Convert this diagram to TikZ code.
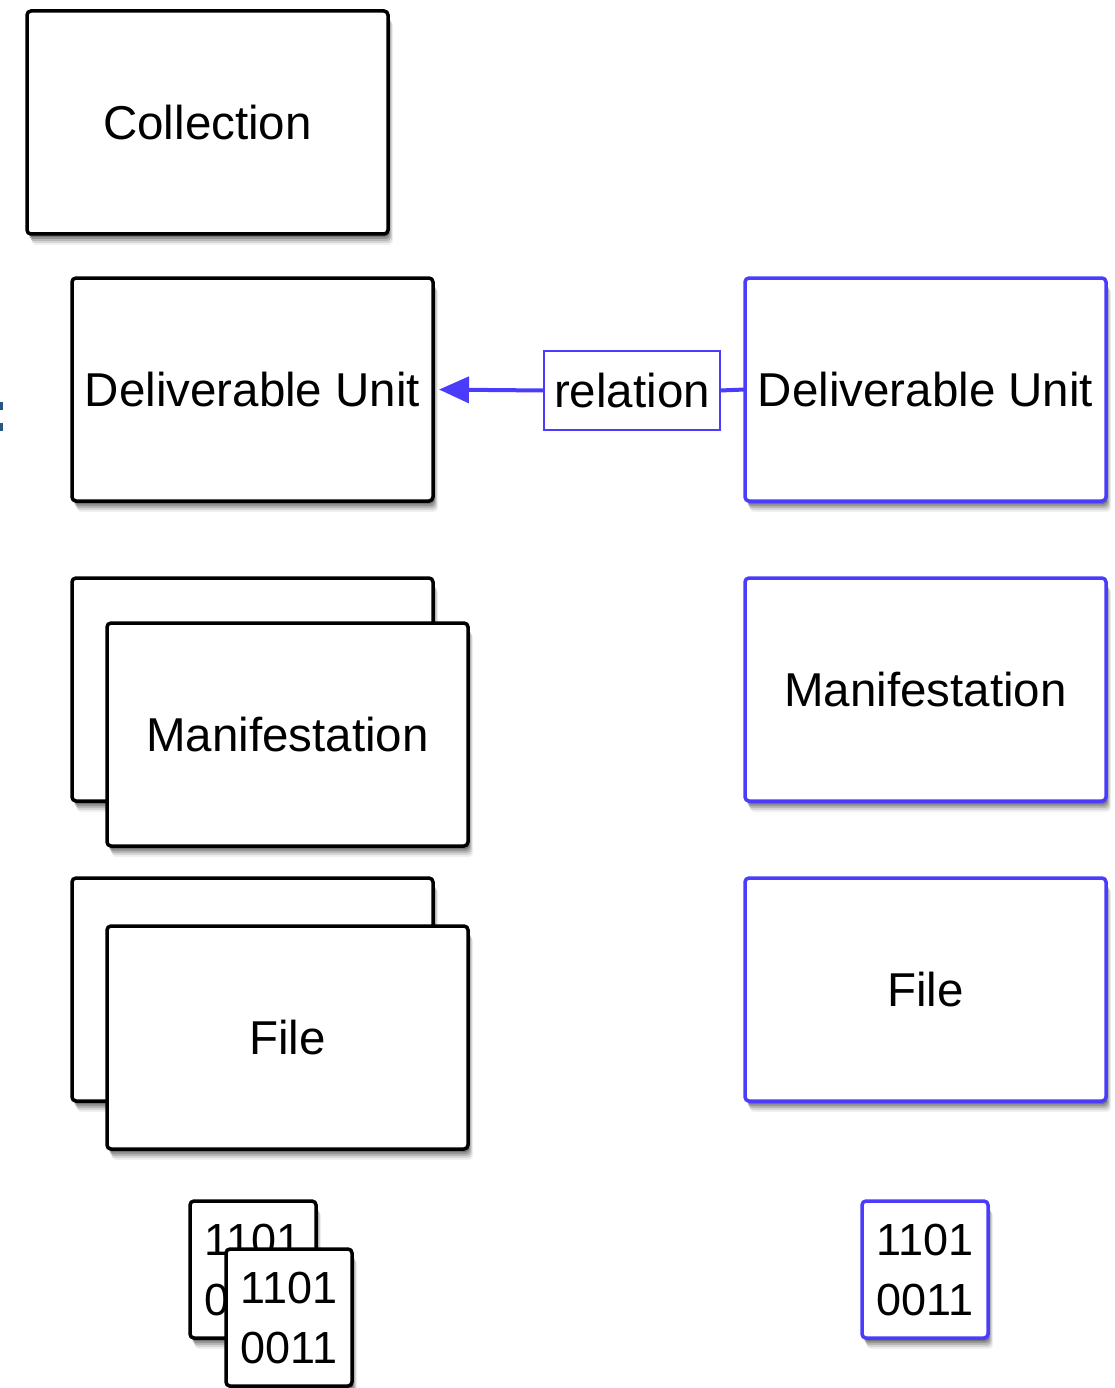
\documentclass[tikz,border=0pt]{standalone}
\usepackage{fontspec}
\setmainfont{Liberation Sans}
\usetikzlibrary{shadows,arrows.meta}
\definecolor{ublue}{RGB}{74,60,250}
\definecolor{markblue}{RGB}{40,85,130}
\tikzset{
  softshadow/.style={
    drop shadow={shadow xshift=5pt,shadow yshift=-11pt,opacity=0.06,fill=black},
    drop shadow={shadow xshift=4pt,shadow yshift=-9pt,opacity=0.10,fill=black},
    drop shadow={shadow xshift=3pt,shadow yshift=-7pt,opacity=0.14,fill=black},
    drop shadow={shadow xshift=2pt,shadow yshift=-5pt,opacity=0.18,fill=black},
    drop shadow={shadow xshift=1pt,shadow yshift=-3pt,opacity=0.22,fill=black}},
  box/.style={draw=black, line width=3.5pt, rounded corners=4pt, fill=white,
    inner sep=0pt, outer sep=0pt, anchor=north west,
    font=\fontsize{47.5}{57}\selectfont, softshadow},
  bigbox/.style={box, minimum width=361pt, minimum height=223pt},
  bluebox/.style={bigbox, draw=ublue},
  binbox/.style={box, minimum width=126pt, minimum height=137pt, align=center,
    font=\fontsize{45}{60}\selectfont},
  relbox/.style={draw=ublue, line width=1.5pt, fill=white, inner sep=0pt, outer sep=0pt,
    minimum width=176pt, minimum height=79pt, anchor=north west,
    font=\fontsize{47.5}{57}\selectfont},
  link/.style={draw=ublue, line width=4pt},
}
\begin{document}
\begin{tikzpicture}[x=1pt,y=-1pt]
\useasboundingbox[fill=white] (0,0) rectangle (1115,1388);
% cropped mark at left edge
\fill[markblue] (0,402) rectangle (3,410);
\fill[markblue] (0,423) rectangle (3,431);
% left column
\node[bigbox] (coll) at (27,11) {Collection};
\node[bigbox] (dul) at (72,278) {Deliverable Unit};
\node[bigbox] (manlb) at (72,578) {};
\node[bigbox] (manl) at (107,623) {Manifestation};
\node[bigbox] (filelb) at (72,878) {};
\node[bigbox] (filel) at (107,926) {File};
\node[binbox] (binlb) at (190,1201) {1101\\0011};
\node[binbox] (binl) at (226,1249) {1101\\0011};
% right column
\node[bluebox] (dur) at (745,278) {Deliverable Unit};
\node[bluebox] (manr) at (745,578) {Manifestation};
\node[bluebox] (filer) at (745,878) {File};
\node[binbox, draw=ublue] (binr) at (862,1201) {1101\\0011};
% relation
\node[relbox] (rel) at (544,351) {relation};
\draw[link, -{Triangle[length=30pt,width=26pt]}, shorten >=6pt] (rel.west) -- (dul.east);
\draw[link] (dur.west) -- (rel.east);
\end{tikzpicture}
\end{document}
